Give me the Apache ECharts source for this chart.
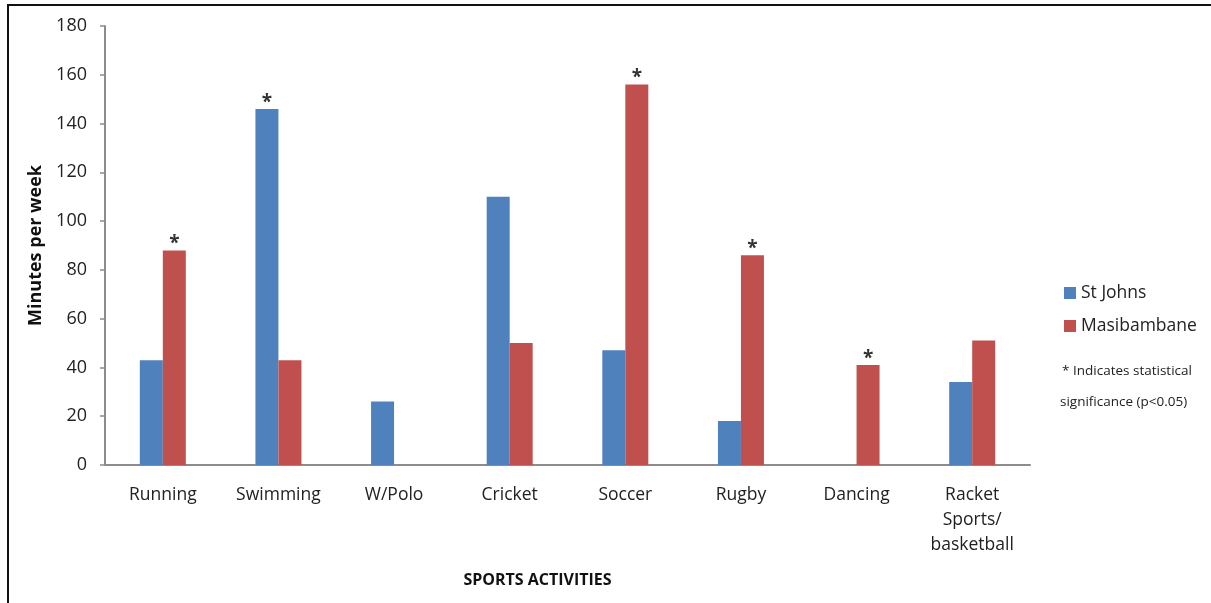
<!DOCTYPE html>
<html>
<head>
<meta charset="utf-8">
<script src="https://cdn.jsdelivr.net/npm/echarts@6/dist/echarts.min.js"></script>
<style>
  html, body { margin: 0; padding: 0; background: #fff; overflow: hidden; }
  #frame { position: absolute; left: 7px; top: 4px; width: 1300px; height: 700px; border: 2px solid #111; box-sizing: border-box; }
  #chart { position: absolute; left: 0; top: 0; width: 1211px; height: 603px; }
</style>
</head>
<body>
<div id="frame"></div>
<div id="chart"></div>
<script>
var categories = ['Running', 'Swimming', 'W/Polo', 'Cricket', 'Soccer', 'Rugby', 'Dancing', 'Racket\nSports/\nbasketball'];
var stJohns = [43, 146, 26, 110, 47, 18, 0, 34];
var masibambane = [88, 43, 0, 50, 156, 86, 41, 51];
var stJohnsSignificant = [false, true, false, false, false, false, false, false];
var masibambaneSignificant = [true, false, false, false, true, true, true, false];
var yTicks = [0, 20, 40, 60, 80, 100, 120, 140, 160, 180];

var FONT = '"Open Sans", Lato, sans-serif';
var chart = echarts.init(document.getElementById('chart'), null, { renderer: 'canvas' });

function starLabel(flags) {
  return {
    show: true,
    position: 'top',
    distance: -3,
    color: '#333',
    fontSize: 19,
    fontWeight: 'bold',
    fontFamily: FONT,
    formatter: function (p) { return flags[p.dataIndex] ? '*' : ''; }
  };
}

chart.setOption({
  animation: false,
  backgroundColor: 'transparent',
  grid: { left: 105, right: 181, top: 26, bottom: 138, containLabel: false },
  legend: {
    orient: 'vertical',
    left: 1059,
    top: 279,
    itemWidth: 12,
    itemHeight: 12,
    itemGap: 15,
    icon: 'rect',
    textStyle: { fontFamily: FONT, fontSize: 17.5, color: '#222' },
    data: ['St Johns', 'Masibambane']
  },
  xAxis: {
    type: 'category',
    data: categories,
    name: 'SPORTS ACTIVITIES',
    nameLocation: 'middle',
    nameGap: 107,
    nameTextStyle: { fontFamily: FONT, fontSize: 16, fontWeight: 'bold', color: '#111', padding: [0, 60, 0, 0] },
    axisLine: { lineStyle: { color: '#8c8c8c', width: 2 } },
    axisTick: { show: false },
    axisLabel: { fontFamily: FONT, fontSize: 17.5, color: '#222', margin: 18, lineHeight: 25, interval: 0 }
  },
  yAxis: {
    type: 'value',
    min: 0,
    max: 180,
    interval: 20,
    name: 'Minutes per week',
    nameLocation: 'middle',
    nameGap: 59,
    nameTextStyle: { fontFamily: FONT, fontSize: 18, fontWeight: 'bold', color: '#111' },
    axisLine: { show: true, lineStyle: { color: '#8c8c8c', width: 2 } },
    axisTick: { show: true, length: 5, lineStyle: { color: '#8c8c8c', width: 1.5 } },
    splitLine: { show: false },
    axisLabel: {
      fontFamily: FONT, fontSize: 18, color: '#222', margin: 18,
      formatter: function (v) { return yTicks.indexOf(v) >= 0 ? String(v) : ''; }
    }
  },
  graphic: [
    { type: 'text', left: 1062, top: 364, style: { text: '* Indicates statistical', font: '13.5px ' + FONT, fill: '#222' } },
    { type: 'text', left: 1060, top: 395, style: { text: 'significance (p<0.05)', font: '13.5px ' + FONT, fill: '#222' } }
  ],
  series: [
    {
      name: 'St Johns',
      type: 'bar',
      data: stJohns,
      barWidth: 23,
      barGap: '0%',
      itemStyle: { color: '#4F81BD' },
      label: starLabel(stJohnsSignificant)
    },
    {
      name: 'Masibambane',
      type: 'bar',
      data: masibambane,
      barWidth: 23,
      barGap: '0%',
      itemStyle: { color: '#C0504D' },
      label: starLabel(masibambaneSignificant)
    }
  ]
});
</script>
</body>
</html>
